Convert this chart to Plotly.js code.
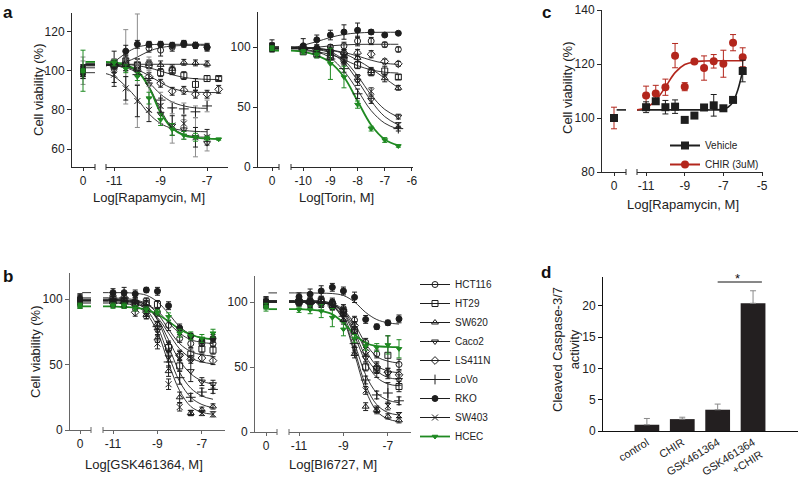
<!DOCTYPE html>
<html><head><meta charset="utf-8">
<script src="https://cdn.plot.ly/plotly-3.0.1.min.js"></script>
<style>html,body{margin:0;padding:0;background:#fff}#chart{width:800px;height:483px}</style>
</head><body><div id="chart"></div>
<script>
// ---------------- DATA ----------------
const cellLines = ['HCT116','HT29','SW620','Caco2','LS411N','LoVo','RKO','SW403','HCEC'];
const zeroFitSpanX = [0.22, 1.3];   // short fit-top stub drawn right of the "0" dose

// Panel a (left) – Rapamycin
const rapaDose = [-11,-10.5,-10,-9.5,-9,-8.5,-8,-7.5,-7,-6.5];
const rapaFitDose = [-11.5,-11,-10.5,-10,-9.5,-9,-8.5,-8,-7.5,-7,-6.5];
const rapa_HCT116 = [101,104,103,111.5,110.5,112,113.5,113,112,null];
const rapa_HCT116_err = [9,4,3,2,3,2,1.5,1.5,2,null];
const rapa_HCT116_fit = [102.5,103.2,104.5,107,110,111.8,112.6,112.9,113,113,null];
const rapa_HT29 = [104,105,103,103,99,100,97.5,93,96,96];
const rapa_HT29_err = [2,3,3,2,2,2,2,3,1.5,1];
const rapa_HT29_fit = [103.6,103.5,103.2,102.6,101.5,99.8,98,96.6,95.9,95.6,95.5];
const rapa_SW620 = [103,104,102,103.5,103,101,104.3,104,103.5,null];
const rapa_SW620_err = [2,2,2,2,2,2,1.5,1.5,1.5,null];
const rapa_SW620_fit = [103.3,103.3,103.3,103.3,103.3,103.3,103.3,103.3,103.3,103.3,null];
const rapa_Caco2 = [102,102,100,93,78,72,70,66,63,null];
const rapa_Caco2_err = [3,5,29,14,5,9,5,10,4,null];
const rapa_Caco2_fit = [103,102.8,102,99.5,92,80,71,67.5,66.3,66,null];
const rapa_LS411N = [102,103,100,97,93.6,89.5,90,88,88,90.5];
const rapa_LS411N_err = [3,3,3,2,2,2,2,2,2,2];
const rapa_LS411N_fit = [103,102.8,102,100.5,97.5,94,91,89.6,89,88.9,88.8];
const rapa_LoVo = [103,102,98,96,85,81,80.5,79,82,null];
const rapa_LoVo_err = [3,19,5,4,4,3,3,3,3,null];
const rapa_LoVo_fit = [103,102.5,101.5,99,94,88,84,82,81,80.8,null];
const rapa_RKO = [103,110,113.5,113.5,113.5,113,114,113,112,null];
const rapa_RKO_err = [2,3,2,1.5,1.5,1.5,1.5,1.5,1.5,null];
const rapa_RKO_fit = [101.5,104.5,109,112,113.2,113.5,113.5,113.5,113.5,113.5,null];
const rapa_SW403 = [98,91,84.5,80,82,72,73,66,66,null];
const rapa_SW403_err = [4,6,8,6,4,5,4,5,4,null];
const rapa_SW403_fit = [99,97,92,85.5,78,73,70.5,69.5,69,68.8,null];
const rapa_HCEC = [104,101,97,86,75,70,67,66,65.5,65];
const rapa_HCEC_err = [1.5,2,2,3,3,3,2,2,1,0.5];
const rapa_HCEC_fit = [104.5,104.2,103,100,91.5,78.5,70.5,67,65.8,65.3,65.1];
const rapaZero = [100,101,99,100,98,102,100,99,100];
const rapaZeroErr = [3,2,2,7,2,3,2,3,10.5];

// Panel a (right) – Torin
const torDose = [-10,-9.5,-9,-8.5,-8,-7.5,-7,-6.5];
const torFitDose = [-10.5,-10,-9.5,-9,-8.5,-8,-7.5,-7,-6.5];
const tor_HCT116 = [98,99,100,101,105,105,102,98];
const tor_HCT116_err = [2,2,2,3,4,3,2,2];
const tor_HCT116_fit = [98.5,99,99.8,101,101.8,102.2,102.3,102.3,102.3];
const tor_HT29 = [96,94,92,90,85,79,80,75];
const tor_HT29_err = [2,3,3,3,3,3,4,2];
const tor_HT29_fit = [97.5,97,96,93.8,89.5,84.5,81,79,78.3];
const tor_SW620 = [100,98,97,95,91,80,74,66];
const tor_SW620_err = [2,2,3,2,3,3,3,2];
const tor_SW620_fit = [100,99.7,99,97.5,94.5,89,82,74,66];
const tor_Caco2 = [99,98,95,90,72,56,null,42];
const tor_Caco2_err = [2,2,4,4,4,3,null,2];
const tor_Caco2_fit = [100,99.5,98.5,96,89,76,60,48,41.5];
const tor_LS411N = [99,98,97,95,95,94,88,86];
const tor_LS411N_err = [2,2,2,3,3,3,2,2];
const tor_LS411N_fit = [99,98.8,98.5,97.5,95.5,92.5,89,86.5,85.5];
const tor_LoVo = [98,95,90,82,61,null,null,32];
const tor_LoVo_err = [2,3,3,3,4,null,null,2];
const tor_LoVo_fit = [99,98,96,91,80,64,47,36.5,31.5];
const tor_RKO = [101,106,110,112.5,114,112.5,110,111.5];
const tor_RKO_err = [6,4,4,6,6,2,1,1];
const tor_RKO_fit = [98.5,101.5,104.5,108,110.5,111.7,112.2,112.3,112.3];
const tor_SW403 = [100,97,94,89,74,63,null,35];
const tor_SW403_err = [2,2,3,3,3,3,null,2];
const tor_SW403_fit = [100,99.5,98,95,87,72,55,42,35];
const tor_HCEC = [96,94,86,75,52,32,22.5,17.5];
const tor_HCEC_err = [2,3,13,9,3,2,2,1];
const tor_HCEC_fit = [97,96,93,87,75,55,35,23,18];
const torZero = [100,101,99,100,98,100,102,99,99];
const torZeroErr = [3,2,2,3,2,3,4,3,2];

// Panel b (left) – GSK461364
const gskDose = [-11,-10.5,-10,-9.5,-9,-8.5,-8,-7.5,-7,-6.5];
const gskFitDose = [-11.5,-11,-10.5,-10,-9.5,-9,-8.5,-8,-7.5,-7,-6.5];
const gsk_HCT116 = [99,99,97,96,90,80,70,66,66,66];
const gsk_HCT116_err = [3,4,3,3,3,4,3,3,2,2];
const gsk_HCT116_fit = [99.5,99.5,99,98.5,96,91,82,74,69,67,66];
const gsk_HT29 = [101,100,97,98,96,63,49,58,62,61];
const gsk_HT29_err = [3,3,4,3,3,4,4,4,3,3];
const gsk_HT29_fit = [101,101,100.5,99.5,96.5,89,77,66,60,57.5,56.5];
const gsk_SW620 = [99,98,96,88,70,45,25,13,15.5,18];
const gsk_SW620_err = [3,3,3,3,3,4,4,2,2,2];
const gsk_SW620_fit = [99,99,98.5,97,92,79,57,37,25,19.5,17];
const gsk_Caco2 = [99,98,96,92,76,56,57,45,37,35];
const gsk_Caco2_err = [3,3,3,3,4,4,4,8,3,3];
const gsk_Caco2_fit = [99,99,98.5,97.5,94,85,69,53,43,37.5,35];
const gsk_LS411N = [97,97,90,90,80,64,57,54,55,53];
const gsk_LS411N_err = [3,3,3,3,3,4,3,3,3,3];
const gsk_LS411N_fit = [98,98,97.5,96.5,93,86,74,62,55,52,50.5];
const gsk_LoVo = [100,101,98,95,79,52,40,25,29,31];
const gsk_LoVo_err = [3,3,3,3,4,4,5,3,3,3];
const gsk_LoVo_fit = [100,100,99.5,98.5,95,84,64,44,32,26,23.5];
const gsk_RKO = [105,105,104,107,106,95,78,72,68,70];
const gsk_RKO_err = [3,4,3,2,3,3,3,2,2,3];
const gsk_RKO_fit = [105,105,105,104.5,103,98,89,79,73,70.5,69.5];
const gsk_SW403 = [97,96,94,88,66,35,17.5,13,13,12];
const gsk_SW403_err = [3,3,3,3,4,4,3,2,2,2];
const gsk_SW403_fit = [97,97,96.5,95,89,75,51,30,18,13.5,12];
const gsk_HCEC = [95,95,93,92,90,86.5,74,72,70,74];
const gsk_HCEC_err = [2,2,2,2,2,3,3,3,3,3];
const gsk_HCEC_fit = [94.5,94.5,94,93.5,92,88.5,83,77,73,70.5,69.5];
const gskZero = [100,100,98,96,97,100,100,99,95];
const gskZeroErr = [3,3,3,3,3,4,4,3,2];

// Panel b (right) – BI6727
const biDose = [-11,-10.5,-10,-9.5,-9,-8.5,-8,-7.5,-7,-6.5];
const biFitDose = [-11.5,-11,-10.5,-10,-9.5,-9,-8.5,-8,-7.5,-7,-6.5];
const bi_HCT116 = [101,100,101,100,95,86,69,60,null,52];
const bi_HCT116_err = [2,3,3,3,3,3,3,3,null,4];
const bi_HCT116_fit = [101,101,101,100.5,99,94,83,68,58,54.5,53];
const bi_HT29 = [100,100,101,98,92,78,50,48,59,35];
const bi_HT29_err = [2,3,3,3,3,3,3,3,15,4];
const bi_HT29_fit = [100,100,100,99.5,98,91,74,54,42,37,35.5];
const bi_SW620 = [100,100,99,97,86,60,19.5,17,12,9];
const bi_SW620_err = [3,3,3,3,3,3,3,2,2,2];
const bi_SW620_fit = [100,100,100,99.5,97,86,60,32,16,10,8];
const bi_Caco2 = [101,99,99,98,93,78,57,48,45,40];
const bi_Caco2_err = [3,3,3,3,3,3,3,6,4,4];
const bi_Caco2_fit = [101,101,101,100.5,98.5,92,77,58,47,42,40.5];
const bi_LS411N = [100,99,100,99,93,82,62,50,46,44];
const bi_LS411N_err = [3,3,3,3,3,3,3,3,3,3];
const bi_LS411N_fit = [100,100,100,99.5,98,93,80,63,51,47,45.5];
const bi_LoVo = [100,99,99,97,89,68,40,28.5,30,24];
const bi_LoVo_err = [3,3,3,3,3,3,3,3,8,3];
const bi_LoVo_fit = [100,100,100,99.5,97.5,89,68,44,30,24.5,22.5];
const bi_RKO = [104,106,108.5,111.3,108.5,103.6,86.6,81,84,87];
const bi_RKO_err = [3,4,4,3,3,4,3,2,2,3];
const bi_RKO_fit = [107,107,107,106.8,106.5,105,100,92,86.5,84,83];
const bi_SW403 = [100,100,99,97,88,63,32,17,20,13];
const bi_SW403_err = [2,3,3,3,3,3,3,3,3,2];
const bi_SW403_fit = [100,100,100,99.5,97,87,63,36,21,15,13];
const bi_HCEC = [94,94,93,88,79,72,66,65,67,64];
const bi_HCEC_err = [2,3,5,7,5,3,3,3,7,7];
const bi_HCEC_fit = [94.5,94.5,94,93,90.5,84,75,68.5,66,65.5,65.3];
const biZero = [100,99,99,98,100,100,100,99,96];
const biZeroErr = [3,3,3,3,3,4,4,3,3];

// Panel c – Rapamycin +/- CHIR
const cDose = [-11,-10.5,-10,-9.5,-9,-8.5,-8,-7.5,-7,-6.5,-6];
const cFitDose = [-11.5,-11,-10.5,-10,-9.5,-9,-8.5,-8,-7.5,-7,-6.75,-6.5,-6.25,-6];
const vehicle = [104,106.2,104,104.2,99.3,100.9,103.9,104.7,103.6,106.7,117.4];
const vehicleErr = [2,0.5,2.5,2.5,0.5,0.5,0.5,4,1,0.5,4];
const vehicleFit = [103,103,103,103,103,103,103,103,103,103.2,104,106,110.5,117.5];
const chir = [108.3,109.1,111.4,123.1,111.6,120.9,118.5,121,120.1,127.9,122.5];
const chirErr = [3.5,3,3,4.5,1.5,0.5,4.5,2.5,5,3,3.5];
const chirFit = [103,103.8,106.5,111.5,116.8,119.8,120.8,121.1,121.2,121.2,121.2,121.2,121.2,121.2];
const cZeroVehicle = [100];
const cZeroChir = [100];
const cZeroChirErr = [4];

// Panel d – caspase activity
const dCats = ['control','CHIR','GSK461364','GSK461364<br>+CHIR'];
const dVals = [1.0,1.9,3.4,20.4];
const dErr = [1.0,0.3,0.9,2.0];
const dErrMinus = [0,0,0,0];

// tick labels
const rapaTicks = [-11,-9,-7], rapaTickText = ['-11','-9','-7'];
const torTicks = [-10,-9,-8,-7,-6], torTickText = ['-10','-9','-8','-7','-6'];
const cTicks = [-11,-9,-7,-5], cTickText = ['-11','-9','-7','-5'];
const bTicks = [-11,-9,-7], bTickText = ['-11','-9','-7'];

// ---------------- BUILD ----------------
const FONT = 'Liberation Sans, Arial, Helvetica, sans-serif';
const BLK = '#1e1e1e', GREEN = '#1f8a22', RED = '#b3261c', GRAY = '#8c8c8c';
const W = 800, H = 483;
const fx = p => p / W, fy = p => 1 - p / H;

const style = {
  HCT116:{symbol:'circle-open', size:6},
  HT29:{symbol:'square-open', size:6},
  SW620:{symbol:'triangle-up-open', size:6},
  Caco2:{symbol:'triangle-down-open', size:6},
  LS411N:{symbol:'diamond-open', size:6},
  LoVo:{symbol:'cross-thin-open', size:7},
  RKO:{symbol:'circle', size:6},
  SW403:{symbol:'x-thin-open', size:6},
  HCEC:{symbol:'triangle-down', size:5}
};

function seriesList(prefix, src) {
  return cellLines.map(n => ({name:n, y:src[prefix+n], err:src[prefix+n+'_err'], fit:src[prefix+n+'_fit']}));
}
const SRC = {
  rapa_HCT116, rapa_HCT116_err, rapa_HCT116_fit, rapa_HT29, rapa_HT29_err, rapa_HT29_fit,
  rapa_SW620, rapa_SW620_err, rapa_SW620_fit, rapa_Caco2, rapa_Caco2_err, rapa_Caco2_fit,
  rapa_LS411N, rapa_LS411N_err, rapa_LS411N_fit, rapa_LoVo, rapa_LoVo_err, rapa_LoVo_fit,
  rapa_RKO, rapa_RKO_err, rapa_RKO_fit, rapa_SW403, rapa_SW403_err, rapa_SW403_fit,
  rapa_HCEC, rapa_HCEC_err, rapa_HCEC_fit,
  tor_HCT116, tor_HCT116_err, tor_HCT116_fit, tor_HT29, tor_HT29_err, tor_HT29_fit,
  tor_SW620, tor_SW620_err, tor_SW620_fit, tor_Caco2, tor_Caco2_err, tor_Caco2_fit,
  tor_LS411N, tor_LS411N_err, tor_LS411N_fit, tor_LoVo, tor_LoVo_err, tor_LoVo_fit,
  tor_RKO, tor_RKO_err, tor_RKO_fit, tor_SW403, tor_SW403_err, tor_SW403_fit,
  tor_HCEC, tor_HCEC_err, tor_HCEC_fit,
  gsk_HCT116, gsk_HCT116_err, gsk_HCT116_fit, gsk_HT29, gsk_HT29_err, gsk_HT29_fit,
  gsk_SW620, gsk_SW620_err, gsk_SW620_fit, gsk_Caco2, gsk_Caco2_err, gsk_Caco2_fit,
  gsk_LS411N, gsk_LS411N_err, gsk_LS411N_fit, gsk_LoVo, gsk_LoVo_err, gsk_LoVo_fit,
  gsk_RKO, gsk_RKO_err, gsk_RKO_fit, gsk_SW403, gsk_SW403_err, gsk_SW403_fit,
  gsk_HCEC, gsk_HCEC_err, gsk_HCEC_fit,
  bi_HCT116, bi_HCT116_err, bi_HCT116_fit, bi_HT29, bi_HT29_err, bi_HT29_fit,
  bi_SW620, bi_SW620_err, bi_SW620_fit, bi_Caco2, bi_Caco2_err, bi_Caco2_fit,
  bi_LS411N, bi_LS411N_err, bi_LS411N_fit, bi_LoVo, bi_LoVo_err, bi_LoVo_fit,
  bi_RKO, bi_RKO_err, bi_RKO_fit, bi_SW403, bi_SW403_err, bi_SW403_fit,
  bi_HCEC, bi_HCEC_err, bi_HCEC_fit
};

const traces = [];
function addDosePanel(xa0, xa2, ya, dose, fitDose, series, zeroVals, zeroErr, grayNames) {
  series.forEach(s => {
    const col = s.name === 'HCEC' ? GREEN : BLK;
    const lw = s.name === 'HCEC' ? 1.8 : 0.9;
    traces.push({x:fitDose, y:s.fit, xaxis:xa2, yaxis:ya, mode:'lines', showlegend:false, hoverinfo:'skip',
      line:{color:col, width:lw, shape:'spline', smoothing:1}});
    traces.push({x:zeroFitSpanX, y:[s.fit[0], s.fit[0]], xaxis:xa0, yaxis:ya, mode:'lines', showlegend:false, hoverinfo:'skip',
      line:{color:col, width:lw}});
  });
  series.forEach((s, i) => {
    const col = s.name === 'HCEC' ? GREEN : BLK;
    const ecol = s.name === 'HCEC' ? GREEN : (grayNames.includes(s.name) ? GRAY : BLK);
    const st = style[s.name];
    const mk = {symbol:st.symbol, size:st.size, color:col, line:{color:col, width:1}};
    traces.push({x:dose, y:s.y, xaxis:xa2, yaxis:ya, mode:'markers', showlegend:false, marker:mk, cliponaxis:false,
      error_y:{type:'data', array:s.err, color:ecol, thickness:1, width:2.5}});
    traces.push({x:[0], y:[zeroVals[i]], xaxis:xa0, yaxis:ya, mode:'markers', showlegend:false, cliponaxis:false,
      marker:{symbol:'square', size:5, color:col}, error_y:{type:'data', array:[zeroErr[i]], color:ecol, thickness:1, width:2.5}});
  });
}

addDosePanel('x','x2','y', rapaDose, rapaFitDose, seriesList('rapa_', SRC), rapaZero, rapaZeroErr, ['Caco2','LoVo']);
addDosePanel('x3','x4','y2', torDose, torFitDose, seriesList('tor_', SRC), torZero, torZeroErr, []);
addDosePanel('x7','x8','y4', gskDose, gskFitDose, seriesList('gsk_', SRC), gskZero, gskZeroErr, []);
addDosePanel('x9','x10','y5', biDose, biFitDose, seriesList('bi_', SRC), biZero, biZeroErr, []);

// legend entries (b)
cellLines.forEach(n => {
  const col = n === 'HCEC' ? GREEN : BLK;
  traces.push({x:[null], y:[null], xaxis:'x8', yaxis:'y4', name:n, mode:'lines+markers', legend:'legend',
    line:{color:col, width: n === 'HCEC' ? 1.8 : 1}, marker:{symbol:style[n].symbol, size:style[n].size, color:col, line:{color:col, width:1}}});
});

// panel c
traces.push({x:cFitDose, y:vehicleFit, xaxis:'x6', yaxis:'y3', mode:'lines', showlegend:false, hoverinfo:'skip',
  line:{color:BLK, width:1.6, shape:'spline', smoothing:1}});
traces.push({x:cFitDose, y:chirFit, xaxis:'x6', yaxis:'y3', mode:'lines', showlegend:false, hoverinfo:'skip',
  line:{color:RED, width:1.6, shape:'spline', smoothing:1}});
traces.push({x:zeroFitSpanX, y:[vehicleFit[0], vehicleFit[0]], xaxis:'x5', yaxis:'y3', mode:'lines', showlegend:false,
  line:{color:BLK, width:1.6}});
traces.push({x:cDose, y:chir, xaxis:'x6', yaxis:'y3', mode:'markers', showlegend:false, cliponaxis:false,
  marker:{symbol:'circle', size:8, color:RED}, error_y:{type:'data', array:chirErr, color:RED, thickness:1, width:3}});
traces.push({x:cDose, y:vehicle, xaxis:'x6', yaxis:'y3', mode:'markers', showlegend:false, cliponaxis:false,
  marker:{symbol:'square', size:8, color:BLK}, error_y:{type:'data', array:vehicleErr, color:BLK, thickness:1, width:3}});
traces.push({x:[0], y:cZeroChir, xaxis:'x5', yaxis:'y3', mode:'markers', showlegend:false, cliponaxis:false,
  marker:{symbol:'circle', size:8, color:RED}, error_y:{type:'data', array:cZeroChirErr, color:RED, thickness:1, width:3}});
traces.push({x:[0], y:cZeroVehicle, xaxis:'x5', yaxis:'y3', mode:'markers', showlegend:false, cliponaxis:false,
  marker:{symbol:'square', size:8, color:BLK}});
traces.push({x:[null], y:[null], xaxis:'x6', yaxis:'y3', name:'Vehicle', mode:'lines+markers', legend:'legend2',
  line:{color:BLK, width:2}, marker:{symbol:'square', size:8, color:BLK}});
traces.push({x:[null], y:[null], xaxis:'x6', yaxis:'y3', name:'CHIR (3uM)', mode:'lines+markers', legend:'legend2',
  line:{color:RED, width:2}, marker:{symbol:'circle', size:8, color:RED}});

// panel d
traces.push({type:'bar', x:dCats, y:dVals, xaxis:'x11', yaxis:'y6', width:0.7, showlegend:false,
  marker:{color:'#231f20'},
  error_y:{type:'data', symmetric:false, array:dErr, arrayminus:dErrMinus, color:'#8a8a8a', thickness:1, width:3}});

// ---------------- LAYOUT ----------------
function xax(d0, d1, range, tickvals, ticktext, anchor, lc) {
  return {domain:[fx(d0), fx(d1)], range, tickvals, ticktext, anchor, showline:true, linecolor:lc, linewidth:1,
    ticks:'outside', ticklen:3, tickcolor:lc, showgrid:false, zeroline:false,
    tickfont:{family:FONT, size:12, color:'#222'}};
}
function yax(p0, p1, range, tickvals, anchor, lc) {
  return {domain:[fy(p1), fy(p0)], range, tickvals, anchor, showline:true, linecolor:lc, linewidth:1,
    ticks:'outside', ticklen:4, tickcolor:lc, showgrid:false, zeroline:false,
    tickfont:{family:FONT, size:12, color:'#222'}};
}
const A = '#2a2a2a', B = '#666';
const layout = {
  width:W, height:H, margin:{l:0,r:0,t:0,b:0}, paper_bgcolor:'#fff', plot_bgcolor:'rgba(0,0,0,0)',
  font:{family:FONT, size:12, color:'#222'},
  xaxis: xax(72, 95, [-1, 1.09], [0], ['0'], 'y', A),
  xaxis2: xax(106, 228, [-11.35, -6.1], rapaTicks, rapaTickText, 'y', A),
  yaxis: yax(13, 167, [50.8, 129.5], [60, 80, 100, 120], 'x', A),
  xaxis3: xax(258, 279, [-2, 1], [0], ['0'], 'y2', A),
  xaxis4: xax(291, 413, [-10.45, -5.96], torTicks, torTickText, 'y2', A),
  yaxis2: yax(12, 167, [0, 129.2], [0, 50, 100], 'x3', A),
  xaxis5: xax(602, 626, [-1, 1], [0], ['0'], 'y3', A),
  xaxis6: xax(637, 763, [-11.47, -4.95], cTicks, cTickText, 'y3', A),
  yaxis3: yax(10, 172, [80, 140], [80, 100, 120, 140], 'x5', A),
  xaxis7: xax(70, 91, [-1, 1.1], [0], ['0'], 'y4', B),
  xaxis8: xax(103, 225, [-11.45, -5.96], bTicks, bTickText, 'y4', B),
  yaxis4: yax(273, 430, [0, 120], [0, 50, 100], 'x7', B),
  xaxis9: xax(255, 277, [-1, 1], [0], ['0'], 'y5', B),
  xaxis10: xax(289, 411, [-11.45, -5.96], bTicks, bTickText, 'y5', B),
  yaxis5: yax(276, 432, [0, 120], [0, 50, 100], 'x9', B),
  xaxis11: {domain:[fx(603), fx(798)], range:[-1.24, 4.27], type:'category', anchor:'y6', showline:true, linecolor:'#111',
    linewidth:1, ticks:'', showgrid:false, zeroline:false, tickangle:-32, tickfont:{family:FONT, size:11, color:'#222'}},
  yaxis6: yax(277, 431, [0, 24.6], [0, 5, 10, 15, 20], 'x11', '#111'),
  legend: {x:fx(415), y:fy(270), xanchor:'left', yanchor:'top', font:{family:FONT, size:10, color:'#222'},
    bgcolor:'rgba(0,0,0,0)', tracegroupgap:0},
  legend2: {x:fx(665), y:fy(131), xanchor:'left', yanchor:'top', font:{family:FONT, size:10, color:'#222'},
    bgcolor:'rgba(0,0,0,0)'},
  showlegend:true,
  shapes:[], annotations:[]
};

// broken-axis end marks
[[95,167,A],[106,167,A],[279,167,A],[291,167,A],[626,172,A],[637,172,A],[91,430,B],[103,430,B],[277,432,B],[289,432,B]]
  .forEach(([px, py, c]) => layout.shapes.push({type:'line', xref:'paper', yref:'paper', x0:fx(px), x1:fx(px),
    y0:fy(py+3), y1:fy(py-3), line:{color:c, width:1}}));
// significance bracket in d
layout.shapes.push({type:'line', xref:'x11', yref:'y6', x0:2, x1:3.25, y0:23.8, y1:23.8, line:{color:'#111', width:1}});
layout.annotations.push({xref:'x11', yref:'y6', x:2.55, y:24.3, text:'*', showarrow:false, font:{size:13, color:'#111'}});

function ann(text, x, y, opts) {
  layout.annotations.push(Object.assign({xref:'paper', yref:'paper', x:fx(x), y:fy(y), text, showarrow:false,
    xanchor:'center', yanchor:'middle', font:{family:FONT, size:13, color:'#222'}}, opts || {}));
}
ann('Log[Rapamycin, M]', 149, 197);
ann('Log[Torin, M]', 336, 197);
ann('Log[Rapamycin, M]', 683, 204);
ann('Log[GSK461364, M]', 144, 464);
ann('Log[BI6727, M]', 333, 464);
ann('Cell viability (%)', 38, 90, {textangle:-90});
ann('Cell viability (%)', 35, 352, {textangle:-90});
ann('Cell viability (%)', 567, 88, {textangle:-90});
ann('Cleaved Caspase-3/7<br>activity', 566, 350, {textangle:-90});
const bold = {font:{family:FONT, size:17, color:'#111', weight:'bold'}};
ann('<b>a</b>', 8, 12, bold);
ann('<b>b</b>', 8, 276, bold);
ann('<b>c</b>', 546, 12, bold);
ann('<b>d</b>', 546, 272, bold);

Plotly.newPlot('chart', traces, layout, {displayModeBar:false, staticPlot:true});
</script></body></html>
